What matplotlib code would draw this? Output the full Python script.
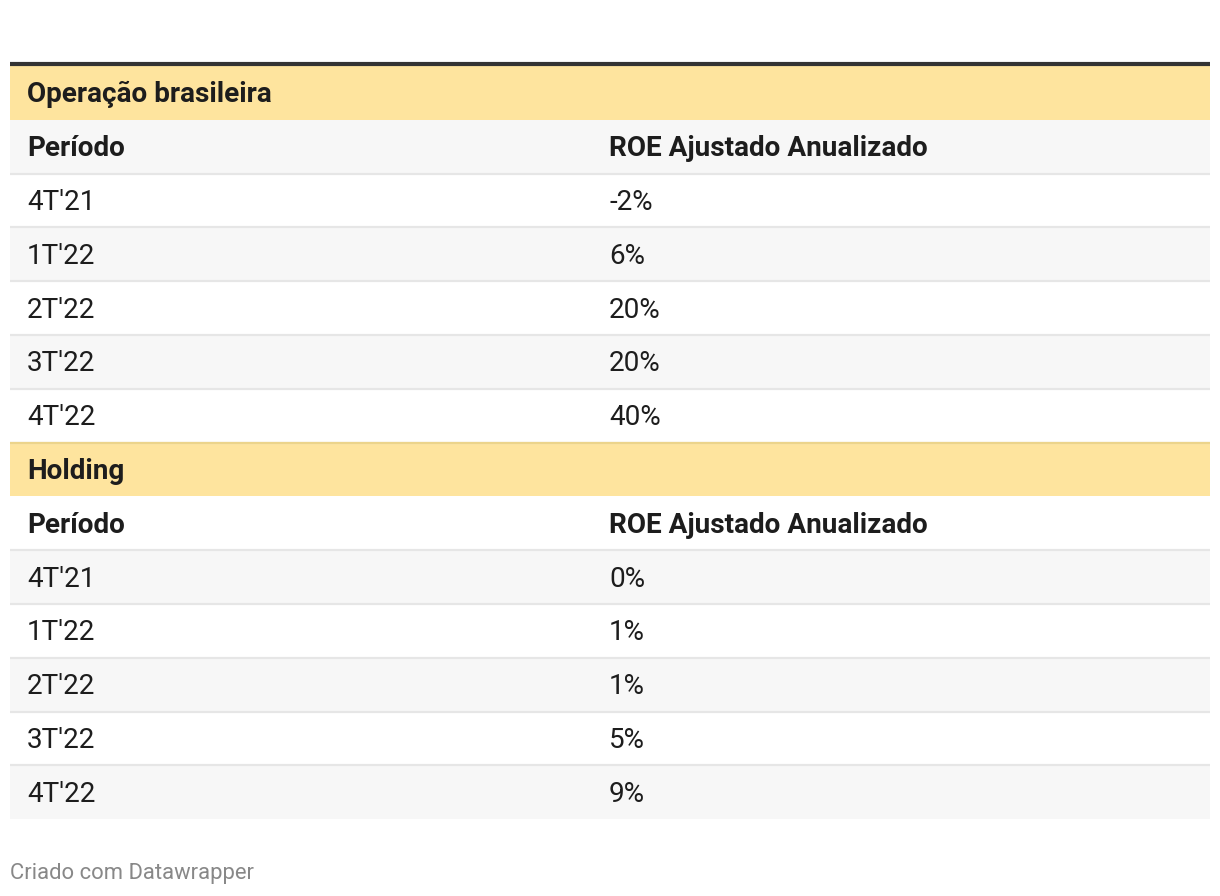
import matplotlib
matplotlib.use("Agg")
import matplotlib.pyplot as plt
from matplotlib.patches import Rectangle

plt.rcParams['font.family'] = ['Roboto', 'DejaVu Sans']

# table data
groups = ['Operação brasileira', 'Holding']
col_headers = ['Período', 'ROE Ajustado Anualizado']
periods = ["4T'21", "1T'22", "2T'22", "3T'22", "4T'22"]
roe_brasil = ['-2%', '6%', '20%', '20%', '40%']
roe_holding = ['0%', '1%', '1%', '5%', '9%']
footer = 'Criado com Datawrapper'

W, H = 1220, 896
fig = plt.figure(figsize=(W / 100, H / 100), dpi=100)
ax = fig.add_axes([0, 0, 1, 1])
ax.set_xlim(0, W)
ax.set_ylim(H, 0)
ax.axis('off')

left, right = 10, 1210
top = 66
row_h = 53.8
col_x = [27, 609]
fs = 20.1
yellow = '#fee49e'

# build rows: (kind, cells)
rows = []
for g, vals in zip(groups, [roe_brasil, roe_holding]):
    rows.append(('group', [g]))
    rows.append(('head', col_headers))
    for p, v in zip(periods, vals):
        rows.append(('data', [p, v]))

for i, (kind, cells) in enumerate(rows):
    y0 = top + i * row_h
    if kind == 'group':
        color = yellow
    else:
        color = '#f7f7f7' if i % 2 == 1 else 'white'
    ax.add_patch(Rectangle((left, y0), right - left, row_h, facecolor=color,
                           edgecolor='none', zorder=1))
    # separator under the row
    if i < len(rows) - 1 and kind != 'group':
        ax.plot([left, right], [y0 + row_h, y0 + row_h], color='#e6e6e6',
                lw=1.6, zorder=2, solid_capstyle='butt')
    if kind == 'group' and i > 0:
        ax.plot([left, right], [y0 + 0.5, y0 + 0.5], color='#ecd48b',
                lw=1.6, zorder=3, solid_capstyle='butt')
    weight = 'normal' if kind == 'data' else 'bold'
    for x, txt in zip(col_x, cells):
        ax.text(x, y0 + row_h / 2 + 2, txt, fontsize=fs, fontweight=weight,
                color='#1d1d1d', ha='left', va='center', zorder=4)

# thick top rule
ax.plot([left, right], [top - 2, top - 2], color='#333333', lw=3,
        solid_capstyle='butt', zorder=5)

ax.text(10, 874, footer, fontsize=15.8, color='#888888', ha='left',
        va='center')

fig.savefig('out.png', dpi=100)
